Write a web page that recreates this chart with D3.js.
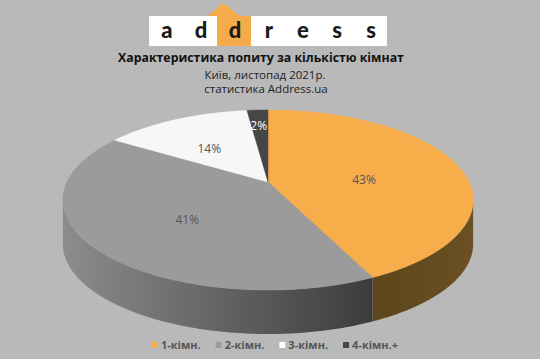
<!DOCTYPE html>
<html><head><meta charset="utf-8">
<script src="https://cdn.jsdelivr.net/npm/d3@7"></script>
<style>html,body{margin:0;padding:0;background:#b9b9b9;}svg{display:block;}</style>
</head><body>
<svg id="c" width="540" height="359"></svg>
<script>
const categories = ["1-кімн.", "2-кімн.", "3-кімн.", "4-кімн.+"];
const values = [43, 41, 14, 2];
const valueLabels = ["43%", "41%", "14%", "2%"];
const titleLines = ["Характеристика попиту за кількістю кімнат", "Київ, листопад 2021р.", "статистика Address.ua"];
const logoLetters = ["a", "d", "d", "r", "e", "s", "s"];

const topColors = ["#f8ad4b", "#9b9b9b", "#f7f7f7", "#464646"];
const sideDark = ["#5c461c", "#3c3c3c", "#9a9a9a", "#2a2a2a"];
const sideLight = ["#6a5022", "#8c8c8c", "#d0d0d0", "#444444"];
const labelColors = ["#555", "#555", "#555", "#ffffff"];
const labelR = [0.5, 0.5, 0.6, 0.86];

const svg = d3.select("#c");
svg.append("rect").attr("width", 540).attr("height", 359).attr("fill", "#b9b9b9");

// logo
const logo = svg.append("g");
logo.append("rect").attr("x", 149).attr("y", 16).attr("width", 238).attr("height", 30).attr("fill", "#ffffff");
logo.append("path").attr("d", "M208,16 L223,3 L240,16 Z").attr("fill", "#f6ab4a");
logo.append("rect").attr("x", 217).attr("y", 16).attr("width", 34).attr("height", 30).attr("fill", "#f6ab4a");
const lx = d3.scalePoint().domain(d3.range(logoLetters.length)).range([167, 371]);
logo.selectAll("text").data(logoLetters).join("text")
  .attr("x", (d, i) => lx(i)).attr("y", 38)
  .attr("text-anchor", "middle")
  .attr("font-family", "Lato, 'DejaVu Sans', sans-serif").attr("font-weight", 900)
  .attr("font-size", 22).attr("fill", "#1a1a1a").text(d => d);

// titles
svg.append("text").attr("x", 261).attr("y", 62).attr("text-anchor", "middle")
  .attr("font-family", "'Open Sans', sans-serif").attr("font-weight", 700).attr("font-size", 12.3)
  .attr("fill", "#111").text(titleLines[0]);
svg.append("text").attr("x", 265).attr("y", 79).attr("text-anchor", "middle")
  .attr("font-family", "'Open Sans', sans-serif").attr("font-size", 11.5)
  .attr("fill", "#222").text(titleLines[1]);
svg.append("text").attr("x", 266).attr("y", 93).attr("text-anchor", "middle")
  .attr("font-family", "'Open Sans', sans-serif").attr("font-size", 11.5)
  .attr("fill", "#222").text(titleLines[2]);

// 3D pie with perspective
const cx = 268, cy = 182, A = 201, K = 86.4, P = 0.2, depth = 44;
function proj(theta, r, down) {
  const X = r * Math.sin(theta), Z = -r * Math.cos(theta);
  const den = 1 - P * Z;
  return [cx + A * X / den, cy + K * Z / den + (down || 0)];
}
const pie = d3.pie().sort(null).startAngle(0).endAngle(2 * Math.PI);
const arcs = pie(values);
const line = d3.line();
const N = 120;

const visLo = Math.acos(-P), visHi = 2 * Math.PI - Math.acos(-P);
const defs = svg.append("defs");
const sideG = svg.append("g");
arcs.forEach((a, i) => {
  const s = Math.max(a.startAngle, visLo), e = Math.min(a.endAngle, visHi);
  if (e <= s) return;
  const topPts = d3.range(N + 1).map(k => proj(s + (e - s) * k / N, 1, 0));
  const botPts = d3.range(N + 1).map(k => proj(e - (e - s) * k / N, 1, depth));
  const xs = topPts.map(p => p[0]);
  const gid = "sg" + i;
  const g = defs.append("linearGradient").attr("id", gid).attr("gradientUnits", "userSpaceOnUse")
    .attr("x1", d3.min(xs)).attr("x2", d3.max(xs)).attr("y1", 0).attr("y2", 0);
  g.append("stop").attr("offset", "0%").attr("stop-color", i === 0 ? sideDark[i] : sideLight[i]);
  g.append("stop").attr("offset", "100%").attr("stop-color", i === 0 ? sideLight[i] : sideDark[i]);
  sideG.append("path").attr("d", line(topPts.concat(botPts)) + "Z").attr("fill", "url(#" + gid + ")");
});

const topG = svg.append("g");
arcs.forEach((a, i) => {
  const pts = [proj(0, 0, 0)].concat(d3.range(N + 1).map(k => proj(a.startAngle + (a.endAngle - a.startAngle) * k / N, 1, 0)));
  topG.append("path").attr("d", line(pts) + "Z").attr("fill", topColors[i])
    .attr("stroke", topColors[i]).attr("stroke-width", 0.5);
});

// labels
arcs.forEach((a, i) => {
  const mid = (a.startAngle + a.endAngle) / 2;
  const p = proj(mid, labelR[i], 0);
  svg.append("text").attr("x", p[0]).attr("y", p[1] + 11)
    .attr("text-anchor", "middle")
    .attr("font-family", "'Open Sans', sans-serif").attr("font-size", 12)
    .attr("fill", labelColors[i]).text(valueLabels[i]);
});

// legend
const legendColors = ["#f8ad4b", "#9b9b9b", "#ffffff", "#464646"];
const lg = svg.append("g");
let x = 0;
categories.forEach((c, i) => {
  const it = lg.append("g");
  it.append("rect").attr("x", 0).attr("y", -3).attr("width", 6).attr("height", 6).attr("fill", legendColors[i]);
  const t = it.append("text").attr("x", 9).attr("y", 0).attr("dy", "0.35em")
    .attr("font-family", "'Open Sans', sans-serif").attr("font-weight", 700).attr("font-size", 11)
    .attr("fill", "#555").text(c);
  it.attr("transform", `translate(${x},0)`);
  x += 9 + t.node().getComputedTextLength() + 15;
});
const total = x - 15;
lg.attr("transform", `translate(${275 - total / 2},345)`);
</script>
</body></html>
